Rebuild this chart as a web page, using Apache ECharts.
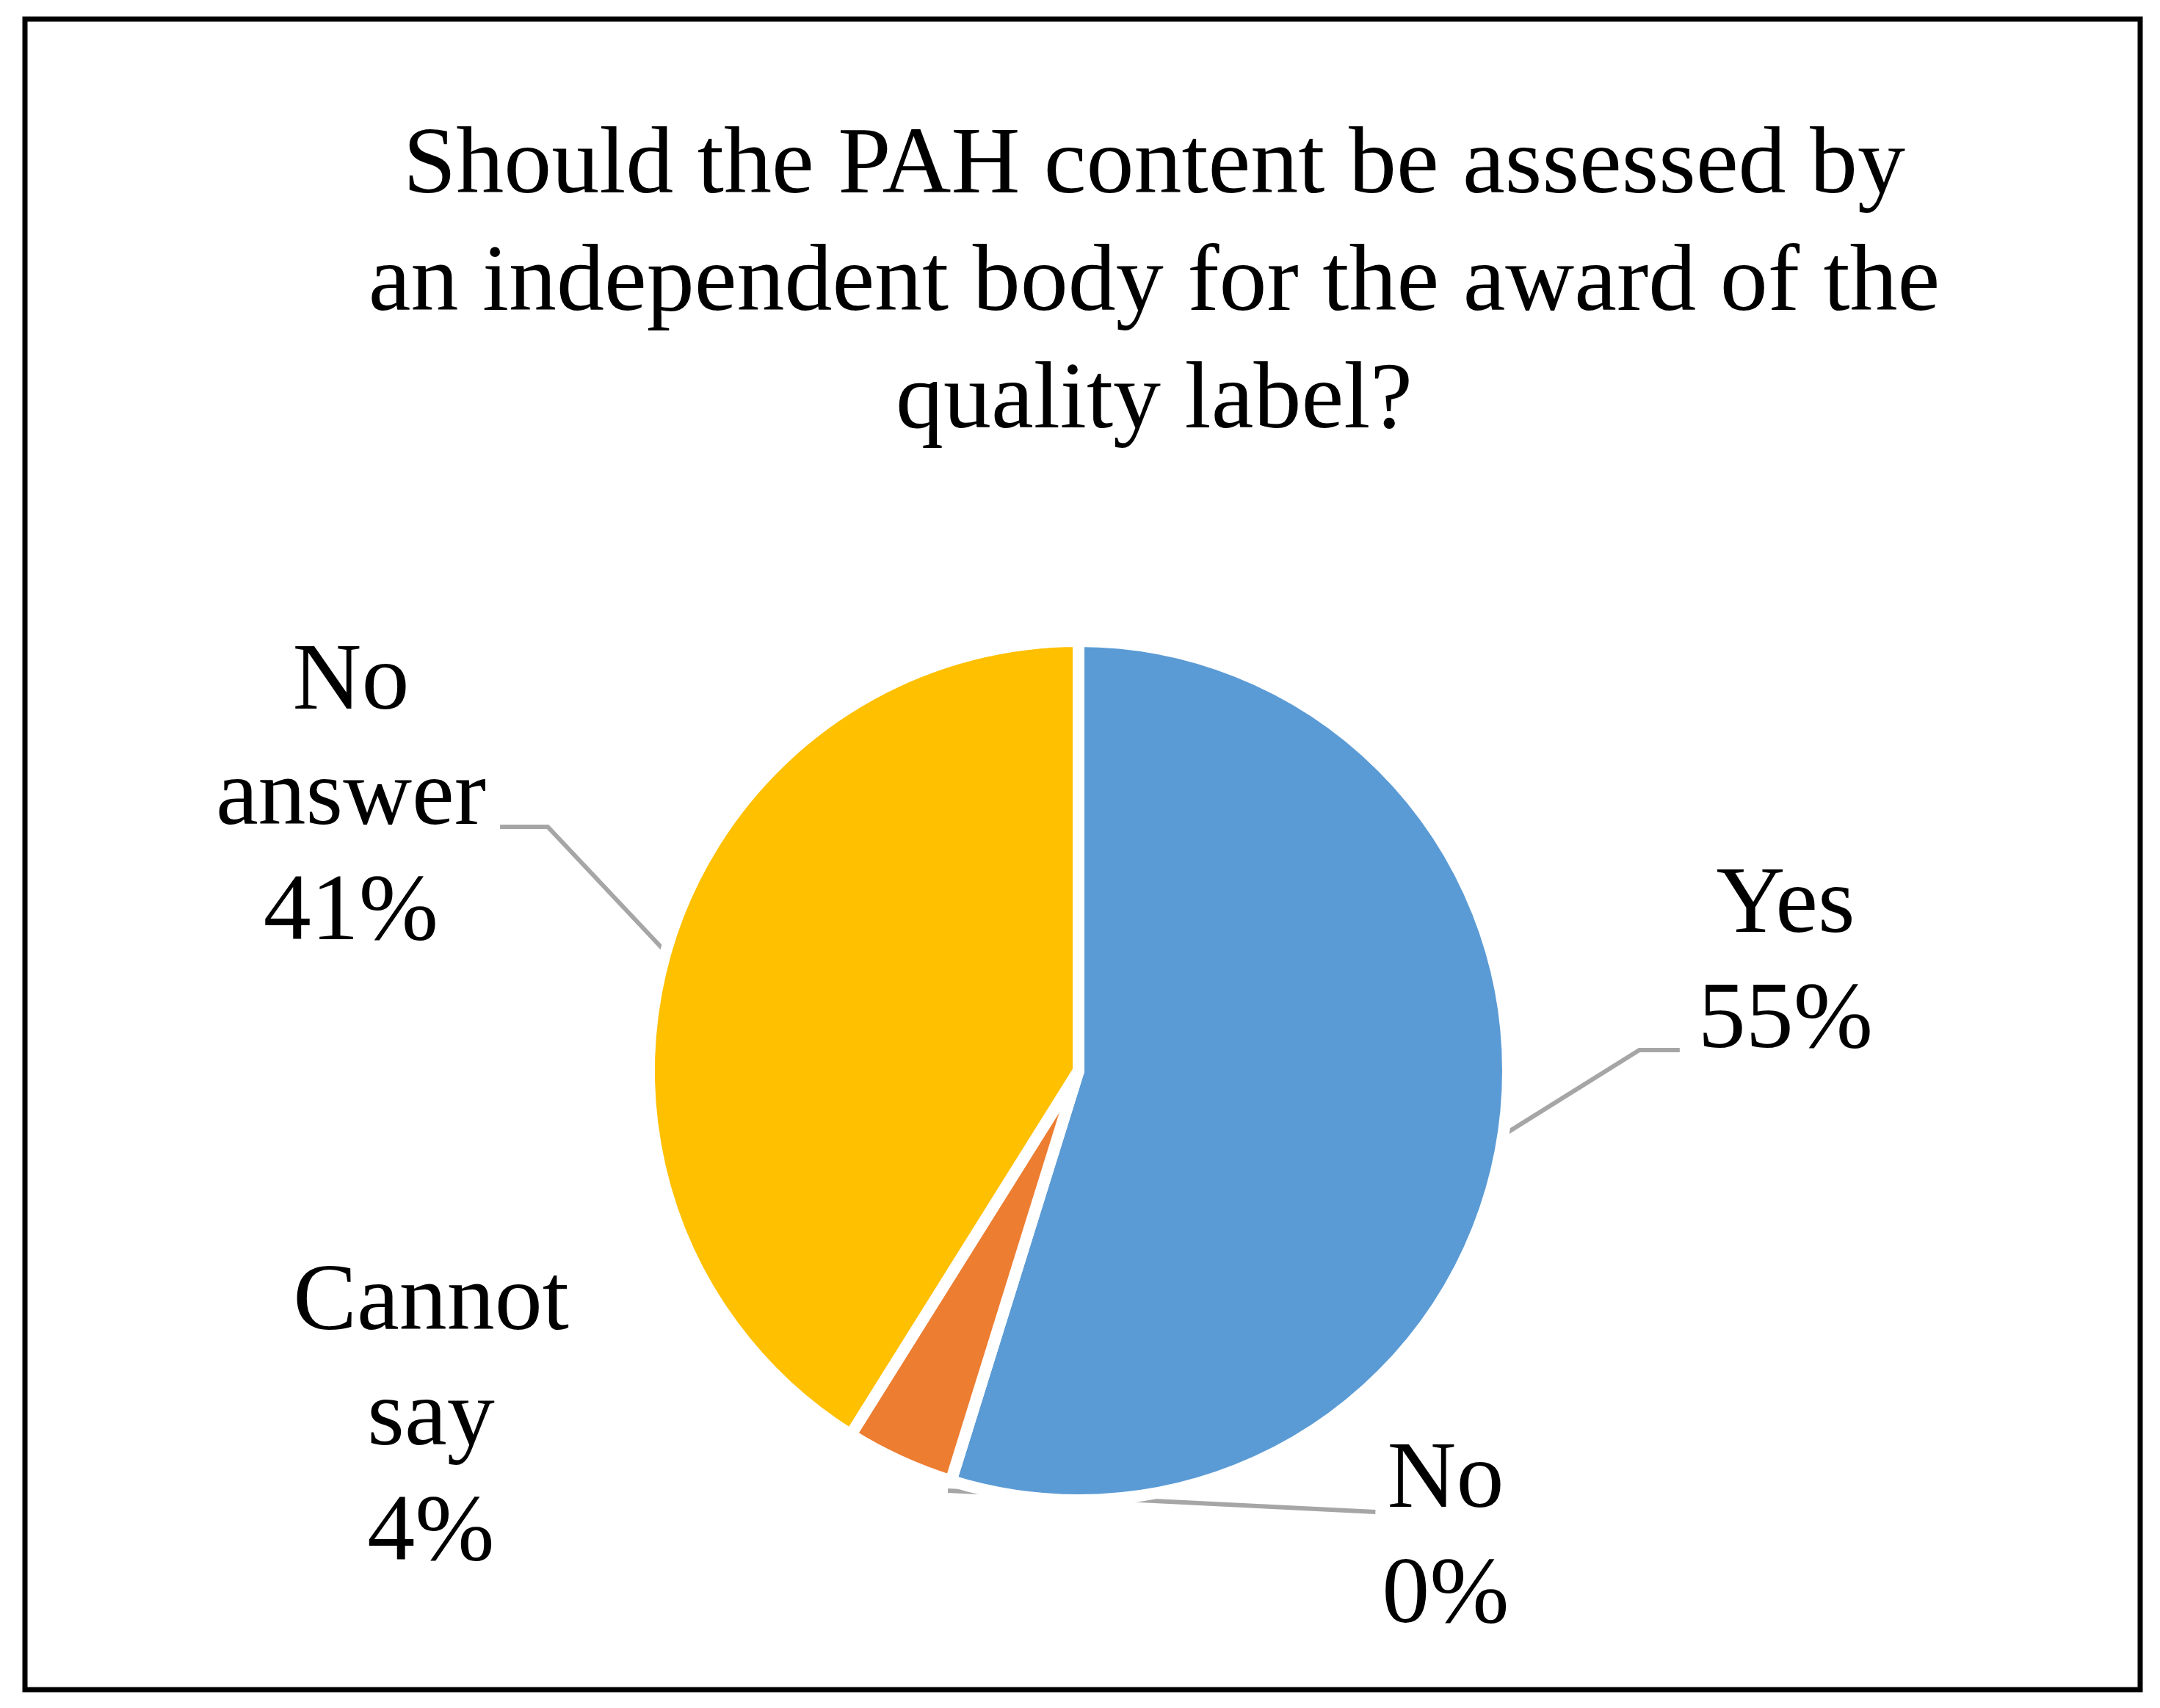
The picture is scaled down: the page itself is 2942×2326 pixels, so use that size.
<!DOCTYPE html>
<html><head><meta charset="utf-8">
<script src="https://cdn.jsdelivr.net/npm/echarts@6/dist/echarts.min.js"></script>
<style>html,body{margin:0;padding:0;background:#fff}#c{width:2942px;height:2326px}</style>
</head><body><div id="c"></div>
<script>
// ---- data ----
const titleLines = ['Should the PAH content be assessed by', 'an independent body for the award of the', 'quality label?'];
const categories = ['Yes', 'No', 'Cannot say', 'No answer'];
const values = [54.8, 0, 4.1, 41.1];
const colors = ['#5B9BD5', '#A5A5A5', '#ED7D31', '#FFC000'];
const showLeader = [true, true, false, true];

// ---- layout ----
const labelCenters = [[2432, 1313], [1969, 2096], [587, 1933], [478, 1088]];
const FONT = 'Liberation Serif';
const PIE_C = [1469, 1458];

const chart = echarts.init(document.getElementById('c'), null, {renderer: 'canvas'});

const data = categories.map((c, i) => ({
  name: c, value: values[i],
  itemStyle: {color: colors[i]},
  labelLine: {show: showLeader[i]}
}));

const option = {
  animation: false,
  backgroundColor: '#fff',
  title: {
    text: titleLines.join('\n'),
    left: 1567, top: 143, textAlign: 'center',
    textStyle: {fontFamily: FONT, fontSize: 130, fontWeight: 'normal', color: '#000', lineHeight: 160}
  },
  graphic: [{
    type: 'rect', shape: {x: 34, y: 26, width: 2881, height: 2275},
    style: {fill: 'none', stroke: '#000', lineWidth: 7}, silent: true, z: 10
  }],
  series: [{
    type: 'pie',
    center: PIE_C,
    radius: 585,
    startAngle: 90,
    clockwise: true,
    avoidLabelOverlap: false,
    emphasis: {disabled: true},
    itemStyle: {borderColor: '#fff', borderWidth: 16},
    label: {
      show: true, position: 'outside',
      fontFamily: FONT, fontSize: 130, lineHeight: 157, color: '#000', align: 'center',
      formatter: p => p.name.replace(' ', '\n') + '\n' + Math.round(p.percent) + '%'
    },
    labelLine: {show: true, lineStyle: {color: '#A6A6A6', width: 6}, smooth: false},
    labelLayout: function (p) {
      const i = p.dataIndex;
      const cx = labelCenters[i][0], cy = labelCenters[i][1];
      const w = p.labelRect.width, h = p.labelRect.height;
      const out = {x: cx, y: cy, align: 'center', verticalAlign: 'middle'};
      const pts = p.labelLinePoints;
      if (pts && showLeader[i]) {
        let s = pts[0];
        let e, m;
        if (i === 0) { e = [cx - w / 2 - 25, cy + h / 2 - 40]; m = [e[0] - 55, e[1]]; }
        else if (i === 3) { e = [cx + w / 2 + 19, cy + 38]; m = [e[0] + 65, e[1]]; }
        else {
          // push start slightly outward so the leader stays visible below the slice edge
          const dx = s[0] - PIE_C[0], dy = s[1] - PIE_C[1], r = Math.hypot(dx, dy);
          s = [PIE_C[0] + dx * (r + 14) / r, PIE_C[1] + dy * (r + 14) / r];
          e = [cx - w / 2 - 9, cy - h / 2 + 120];
          m = [(s[0] + e[0]) / 2, (s[1] + e[1]) / 2];
        }
        out.labelLinePoints = [s, m, e];
      }
      return out;
    },
    data: data
  }]
};
chart.setOption(option);
</script>
</body></html>
